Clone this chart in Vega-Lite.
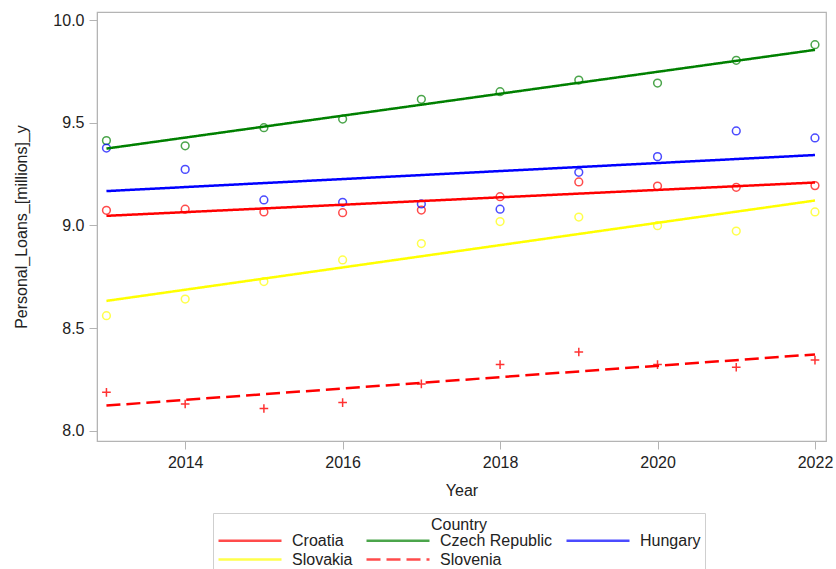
{
  "$schema": "https://vega.github.io/schema/vega-lite/v6.json",
  "width": 729,
  "height": 429,
  "autosize": "none",
  "padding": {"left": 97, "top": 12, "right": 10, "bottom": 128},
  "config": {
    "font": "Liberation Sans",
    "view": {"stroke": "#b4b4b4", "strokeWidth": 1.2},
    "axis": {
      "grid": false,
      "domainColor": "#b4b4b4",
      "tickColor": "#b4b4b4",
      "tickSize": 8,
      "labelFontSize": 16,
      "titleFontSize": 16,
      "titleFontWeight": "normal",
      "labelColor": "#222222",
      "titleColor": "#222222",
      "labelPadding": 5
    },
    "legend": {
      "orient": "none",
      "legendX": 116,
      "legendY": 501,
      "direction": "horizontal",
      "columns": 3,
      "strokeColor": "#cfcfcf",
      "padding": 4,
      "titleAnchor": "middle",
      "titleFontWeight": "normal",
      "titleFontSize": 16,
      "titleColor": "#222222",
      "labelFontSize": 16,
      "labelColor": "#222222",
      "symbolType": "M-1,0L6,0",
      "symbolSize": 324,
      "symbolStrokeWidth": 2.5,
      "columnPadding": 8,
      "rowPadding": 0,
      "labelOffset": 54,
      "titlePadding": -3
    }
  },
  "data": {
    "values": [
      {"Country": "Croatia", "Year": 2013, "value": 9.074},
      {"Country": "Croatia", "Year": 2014, "value": 9.079},
      {"Country": "Croatia", "Year": 2015, "value": 9.066},
      {"Country": "Croatia", "Year": 2016, "value": 9.062},
      {"Country": "Croatia", "Year": 2017, "value": 9.075},
      {"Country": "Croatia", "Year": 2018, "value": 9.14},
      {"Country": "Croatia", "Year": 2019, "value": 9.212},
      {"Country": "Croatia", "Year": 2020, "value": 9.192},
      {"Country": "Croatia", "Year": 2021, "value": 9.186},
      {"Country": "Croatia", "Year": 2022, "value": 9.194},
      {"Country": "Czech Republic", "Year": 2013, "value": 9.413},
      {"Country": "Czech Republic", "Year": 2014, "value": 9.388},
      {"Country": "Czech Republic", "Year": 2015, "value": 9.476},
      {"Country": "Czech Republic", "Year": 2016, "value": 9.518},
      {"Country": "Czech Republic", "Year": 2017, "value": 9.614},
      {"Country": "Czech Republic", "Year": 2018, "value": 9.651},
      {"Country": "Czech Republic", "Year": 2019, "value": 9.708},
      {"Country": "Czech Republic", "Year": 2020, "value": 9.693},
      {"Country": "Czech Republic", "Year": 2021, "value": 9.804},
      {"Country": "Czech Republic", "Year": 2022, "value": 9.88},
      {"Country": "Hungary", "Year": 2013, "value": 9.377},
      {"Country": "Hungary", "Year": 2014, "value": 9.273},
      {"Country": "Hungary", "Year": 2015, "value": 9.124},
      {"Country": "Hungary", "Year": 2016, "value": 9.113},
      {"Country": "Hungary", "Year": 2017, "value": 9.105},
      {"Country": "Hungary", "Year": 2018, "value": 9.079},
      {"Country": "Hungary", "Year": 2019, "value": 9.259},
      {"Country": "Hungary", "Year": 2020, "value": 9.335},
      {"Country": "Hungary", "Year": 2021, "value": 9.46},
      {"Country": "Hungary", "Year": 2022, "value": 9.426},
      {"Country": "Slovakia", "Year": 2013, "value": 8.561},
      {"Country": "Slovakia", "Year": 2014, "value": 8.642},
      {"Country": "Slovakia", "Year": 2015, "value": 8.727},
      {"Country": "Slovakia", "Year": 2016, "value": 8.832},
      {"Country": "Slovakia", "Year": 2017, "value": 8.912},
      {"Country": "Slovakia", "Year": 2018, "value": 9.019},
      {"Country": "Slovakia", "Year": 2019, "value": 9.041},
      {"Country": "Slovakia", "Year": 2020, "value": 8.999},
      {"Country": "Slovakia", "Year": 2021, "value": 8.973},
      {"Country": "Slovakia", "Year": 2022, "value": 9.066},
      {"Country": "Slovenia", "Year": 2013, "value": 8.188},
      {"Country": "Slovenia", "Year": 2014, "value": 8.131},
      {"Country": "Slovenia", "Year": 2015, "value": 8.109},
      {"Country": "Slovenia", "Year": 2016, "value": 8.138},
      {"Country": "Slovenia", "Year": 2017, "value": 8.229},
      {"Country": "Slovenia", "Year": 2018, "value": 8.323},
      {"Country": "Slovenia", "Year": 2019, "value": 8.384},
      {"Country": "Slovenia", "Year": 2020, "value": 8.323},
      {"Country": "Slovenia", "Year": 2021, "value": 8.31},
      {"Country": "Slovenia", "Year": 2022, "value": 8.345}
    ]
  },
  "encoding": {
    "x": {
      "field": "Year",
      "type": "quantitative",
      "title": "Year",
      "scale": {"domain": [2012.88, 2022.14], "nice": false, "zero": false},
      "axis": {"values": [2014, 2016, 2018, 2020, 2022], "format": "d", "titlePadding": 12}
    },
    "y": {
      "field": "value",
      "type": "quantitative",
      "title": "Personal_Loans_[millions]_y",
      "scale": {"domain": [7.951, 10.039], "nice": false, "zero": false},
      "axis": {"values": [8, 8.5, 9, 9.5, 10], "format": ".1f", "titlePadding": 23}
    },
    "color": {
      "field": "Country",
      "type": "nominal",
      "title": "Country",
      "scale": {
        "domain": ["Croatia", "Czech Republic", "Hungary", "Slovakia", "Slovenia"],
        "range": ["#ff0000", "#008000", "#0000ff", "#ffff00", "#ff0000"]
      }
    }
  },
  "layer": [
    {
      "transform": [{"filter": "datum.Country !== 'Slovenia'"}],
      "mark": {"type": "point", "shape": "circle", "filled": false, "size": 60, "strokeWidth": 1.5, "opacity": 0.7}
    },
    {
      "transform": [{"filter": "datum.Country === 'Slovenia'"}],
      "mark": {"type": "point", "shape": "M-1,0L1,0M0,-1L0,1", "filled": false, "size": 75, "strokeWidth": 1.5, "opacity": 0.8}
    },
    {
      "transform": [
        {"regression": "value", "on": "Year", "groupby": ["Country"], "extent": [2013, 2022], "method": "linear"}
      ],
      "mark": {"type": "line", "strokeWidth": 2.5},
      "encoding": {
        "strokeDash": {
          "field": "Country",
          "type": "nominal",
          "title": "Country",
          "scale": {
            "domain": ["Croatia", "Czech Republic", "Hungary", "Slovakia", "Slovenia"],
            "range": [[1, 0], [1, 0], [1, 0], [1, 0], [14, 6]]
          }
        }
      }
    }
  ]
}
